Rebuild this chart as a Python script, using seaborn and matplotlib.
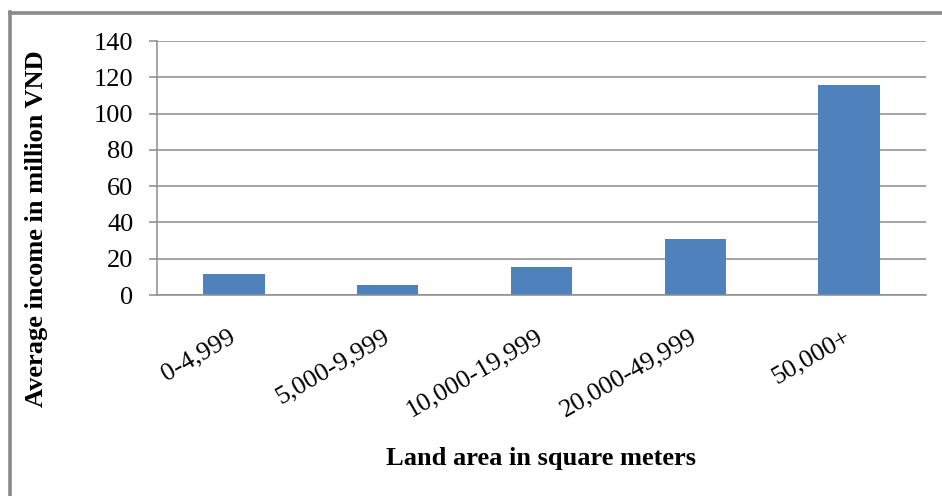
import matplotlib
matplotlib.use("Agg")
import matplotlib.pyplot as plt
from matplotlib.lines import Line2D
import seaborn as sns
import pandas as pd

# Land holding size classes and average income per class
land_classes = ["0-4,999", "5,000-9,999", "10,000-19,999", "20,000-49,999", "50,000+"]
avg_income = [11.6, 5.3, 15.4, 30.7, 115.6]
y_ticks = [0, 20, 40, 60, 80, 100, 120, 140]

df = pd.DataFrame({"land": land_classes, "income": avg_income})

sns.set_theme(style="white")
plt.rcParams["font.family"] = ["Liberation Serif", "DejaVu Serif"]

fig = plt.figure(figsize=(9.42, 4.96), dpi=100)
ax = fig.add_axes([157 / 942, 1 - 295 / 496, (926 - 157) / 942, (295 - 41) / 496])

sns.barplot(data=df, x="land", y="income", ax=ax, color="#4F81BD",
            saturation=1, width=0.4, edgecolor="none")

grid_c = "#8c8c8c"
ax.set_ylim(0, 140)
ax.set_xlim(-0.5, len(land_classes) - 0.5)
ax.set_yticks(y_ticks)
ax.yaxis.grid(True, color=grid_c, linewidth=1.1)
ax.set_axisbelow(True)

for side in ["top", "right"]:
    ax.spines[side].set_visible(False)
for side in ["left", "bottom"]:
    ax.spines[side].set_color(grid_c)
    ax.spines[side].set_linewidth(1.1)

ax.tick_params(axis="y", which="both", left=True, length=6, width=1.1,
               color=grid_c, labelsize=19, pad=11, labelcolor="black")
ax.tick_params(axis="x", bottom=False, labelsize=19, pad=23, labelcolor="black")
for lbl in ax.get_xticklabels():
    lbl.set_rotation(30)
    lbl.set_ha("right")
    lbl.set_va("center")
    lbl.set_rotation_mode("anchor")

ax.set_xlabel("")
ax.set_ylabel("")
fig.text(541 / 942, 1 - 458 / 496, "Land area in square meters", ha="center",
         va="center", fontsize=19, fontweight="bold", color="black")
fig.text(37 / 942, 1 - 229 / 496, "Average income in million VND", ha="center",
         va="center", rotation=90, fontsize=19, fontweight="bold", color="black")

# Chart border (left and top edges)
frame_c = "#8a8a8a"
fig.add_artist(Line2D([10 / 942, 10 / 942], [0, 1 - 12 / 496], transform=fig.transFigure,
                      color=frame_c, linewidth=2.6, solid_capstyle="projecting"))
fig.add_artist(Line2D([10 / 942, 1], [1 - 13 / 496, 1 - 13 / 496], transform=fig.transFigure,
                      color=frame_c, linewidth=2.6, solid_capstyle="projecting"))

fig.savefig("out.png", dpi=100, facecolor="white")
